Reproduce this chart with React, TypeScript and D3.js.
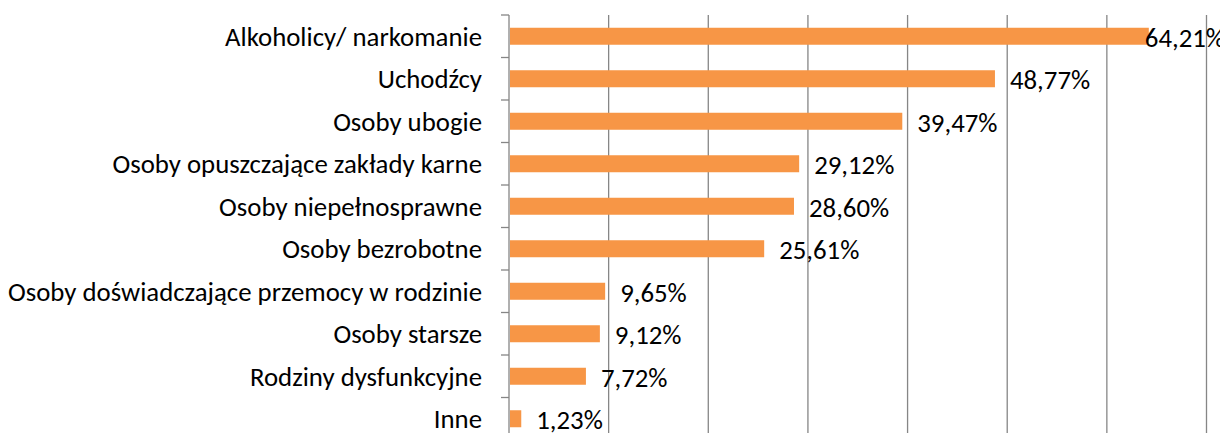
import React, { useEffect, useRef } from 'react';
import * as d3 from 'd3';

const categories = [
  'Alkoholicy/ narkomanie',
  'Uchodźcy',
  'Osoby ubogie',
  'Osoby opuszczające zakłady karne',
  'Osoby niepełnosprawne',
  'Osoby bezrobotne',
  'Osoby doświadczające przemocy w rodzinie',
  'Osoby starsze',
  'Rodziny dysfunkcyjne',
  'Inne',
];
const values = [64.21, 48.77, 39.47, 29.12, 28.6, 25.61, 9.65, 9.12, 7.72, 1.23];
const gridTicks = [10, 20, 30, 40, 50, 60, 70];

const W = 1228;
const H = 441;
const FONT = "Carlito, 'Open Sans', sans-serif";

export default function App() {
  const ref = useRef<SVGSVGElement>(null);

  useEffect(() => {
    const svg = d3.select(ref.current);
    svg.selectAll('*').remove();

    const margin = { top: 15, right: 20, bottom: 1, left: 509 };
    const x = d3.scaleLinear().domain([0, 70]).range([margin.left, 1206.5]);
    const y = d3.scaleBand<string>()
      .domain(categories)
      .range([margin.top, H - margin.bottom])
      .paddingInner(0.6)
      .paddingOuter(0.3);
    const step = y.step();
    const fmt = (v: number) => v.toFixed(2).replace('.', ',') + '%';

    // vertical gridlines
    svg.append('g').selectAll('line')
      .data(gridTicks).enter().append('line')
      .attr('x1', d => x(d)).attr('x2', d => x(d))
      .attr('y1', margin.top).attr('y2', H)
      .attr('stroke', '#868686').attr('stroke-width', 1.3);

    // category axis
    const axis = svg.append('g');
    axis.append('line')
      .attr('x1', x(0)).attr('x2', x(0))
      .attr('y1', margin.top).attr('y2', H)
      .attr('stroke', '#868686').attr('stroke-width', 1.3);
    const bounds = d3.range(categories.length + 1).map(i => margin.top + i * step);
    axis.selectAll('line.tick')
      .data(bounds).enter().append('line')
      .attr('class', 'tick')
      .attr('x1', x(0) - 8).attr('x2', x(0))
      .attr('y1', d => d).attr('y2', d => d)
      .attr('stroke', '#868686').attr('stroke-width', 1.3);
    axis.selectAll('text')
      .data(categories).enter().append('text')
      .attr('x', 482)
      .attr('y', d => (y(d) as number) + y.bandwidth() / 2)
      .attr('dy', '0.35em')
      .attr('text-anchor', 'end')
      .style('font-family', FONT)
      .style('font-size', '26.8px')
      .attr('fill', '#000')
      .text(d => d);

    // bars
    svg.append('g').selectAll('rect')
      .data(values).enter().append('rect')
      .attr('x', x(0) + 1)
      .attr('y', (d, i) => y(categories[i]) as number)
      .attr('width', d => x(d) - x(0) - 1)
      .attr('height', y.bandwidth())
      .attr('fill', '#F79646');

    // value labels
    const labels = svg.append('g').selectAll('text')
      .data(values).enter().append('text')
      .attr('y', (d, i) => (y(categories[i]) as number) + y.bandwidth() / 2 + 1)
      .attr('dy', '0.35em')
      .style('font-family', FONT)
      .style('font-size', '26.8px')
      .attr('fill', '#000')
      .text(d => fmt(d));
    labels.each(function (d) {
      const t = this as SVGTextElement;
      const w = t.getComputedTextLength();
      const px = Math.min(x(d) + 15, W - 3 - w);
      d3.select(t).attr('x', px);
    });
  }, []);

  return <svg ref={ref} width={W} height={H} style={{ display: 'block', margin: '-8px' }} />;
}
